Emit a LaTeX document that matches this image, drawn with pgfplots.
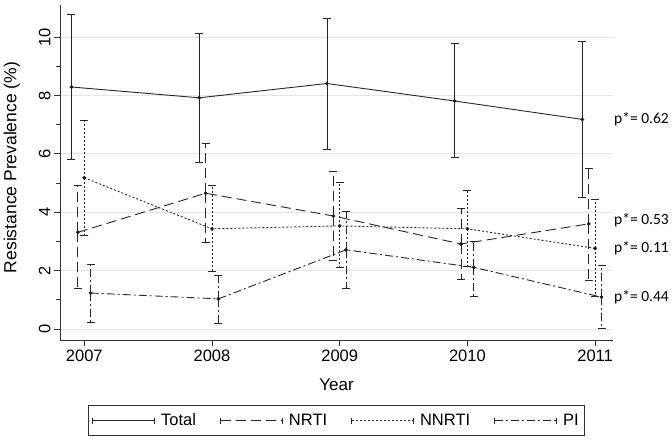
\documentclass[border=0pt]{standalone}
\usepackage{pgfplots}
\pgfplotsset{compat=1.18}
\usepackage{fontspec}
\setmainfont{Liberation Sans}
\newfontfamily\calib{Carlito}
\pgfplotsset{
  ebar/.style={
    /pgfplots/error bars/y dir=both,
    /pgfplots/error bars/y explicit,
    /pgfplots/error bars/error bar style={line width=0.8pt},
    /pgfplots/error bars/error mark options={rotate=90, mark size=4pt, solid, line width=0.8pt},
  }
}
\begin{document}
\begin{tikzpicture}
\path[use as bounding box] (-60pt,-100pt) rectangle (612pt,340pt);
\begin{axis}[
  at={(0pt,0pt)}, anchor=south west,
  scale only axis, width=553pt, height=335pt,
  xmin=2006.81, xmax=2011.14, ymin=-0.38, ymax=11.1,
  axis x line*=bottom, axis y line*=left,
  axis line style={black!80, line width=0.8pt},
  every tick/.style={black!80, line width=0.8pt},
  xtick={2007,2008,2009,2010,2011},
  xticklabels={2007,2008,2009,2010,2011},
  ytick={0,2,4,6,8,10}, minor ytick={1,3,5,7,9},
  tick align=outside, major tick length=6pt, minor tick length=4pt,
  ymajorgrids, grid style={black!10, line width=0.7pt},
  /pgf/number format/assume math mode=true,
  tick label style={font=\fontsize{16.5}{19}\selectfont},
  yticklabel style={rotate=90, anchor=south},
  xlabel={Year}, ylabel={Resistance Prevalence (\%)},
  every axis x label/.style={at={(axis description cs:0.5,-0.134)}, anchor=center, font=\fontsize{17}{20}\selectfont},
  every axis y label/.style={at={(axis description cs:-0.087,0.515)}, anchor=center, rotate=90, font=\fontsize{17.5}{20}\selectfont},
  clip=false,
  legend columns=4,
  legend style={at={(axis description cs:0.5,-0.194)}, anchor=north, draw=black!80, line width=0.8pt,
    font=\fontsize{16.5}{19}\selectfont, inner xsep=4pt, inner ysep=6.5pt,
    /tikz/every odd column/.append style={column sep=4pt},
    /tikz/every even column/.append style={column sep=22pt}},
  legend image code/.code={
    \draw[#1] (0pt,0pt) -- (62pt,0pt);
    \draw[#1,solid] (0pt,-3pt) -- (0pt,3pt);
    \draw[#1,solid] (62pt,-3pt) -- (62pt,3pt);
  },
]
% Total
\addplot[ebar, black!85, line width=0.9pt, mark=*, mark size=1.4pt, mark options={solid, fill=black}]
  table[x=x, y=y, y error plus=ep, y error minus=em] {
x y ep em
2006.90 8.29 2.48 2.47
2007.90 7.92 2.20 2.20
2008.90 8.41 2.22 2.25
2009.90 7.81 1.96 1.92
2010.90 7.18 2.66 2.68
};
\addlegendentry{Total}
% NRTI
\addplot[ebar, black!85, line width=0.9pt, dash pattern=on 10pt off 5pt, mark=*, mark size=1.4pt, mark options={solid, fill=black}]
  table[x=x, y=y, y error plus=ep, y error minus=em] {
x y ep em
2006.95 3.31 1.60 1.91
2007.95 4.65 1.72 1.69
2008.95 3.87 1.54 1.53
2009.95 2.91 1.22 1.20
2010.95 3.60 1.90 1.93
};
\addlegendentry{NRTI}
% NNRTI
\addplot[ebar, black!85, line width=0.9pt, dash pattern=on 2pt off 2pt, mark=*, mark size=1.4pt, mark options={solid, fill=black}]
  table[x=x, y=y, y error plus=ep, y error minus=em] {
x y ep em
2007.00 5.18 1.95 1.96
2008.00 3.43 1.50 1.47
2009.00 3.53 1.48 1.42
2010.00 3.43 1.31 1.30
2011.00 2.76 1.68 1.63
};
\addlegendentry{NNRTI}
% PI
\addplot[ebar, black!85, line width=0.9pt, dash pattern=on 8pt off 3pt on 2pt off 3pt, mark=*, mark size=1.4pt, mark options={solid, fill=black}]
  table[x=x, y=y, y error plus=ep, y error minus=em] {
x y ep em
2007.05 1.23 0.98 0.99
2008.05 1.03 0.81 0.83
2009.05 2.71 1.31 1.32
2010.05 2.11 0.88 1.01
2011.05 1.09 1.08 1.07
};
\addlegendentry{PI}
\node[anchor=west, inner sep=1pt, font={\fontsize{15.5}{18}\selectfont\calib}] at (axis cs:2011.14,7.19) {p*= 0.62};
\node[anchor=west, inner sep=1pt, font={\fontsize{15.5}{18}\selectfont\calib}] at (axis cs:2011.14,3.71) {p*= 0.53};
\node[anchor=west, inner sep=1pt, font={\fontsize{15.5}{18}\selectfont\calib}] at (axis cs:2011.14,2.77) {p*= 0.11};
\node[anchor=west, inner sep=1pt, font={\fontsize{15.5}{18}\selectfont\calib}] at (axis cs:2011.14,1.07) {p*= 0.44};
\end{axis}
\end{tikzpicture}
\end{document}
